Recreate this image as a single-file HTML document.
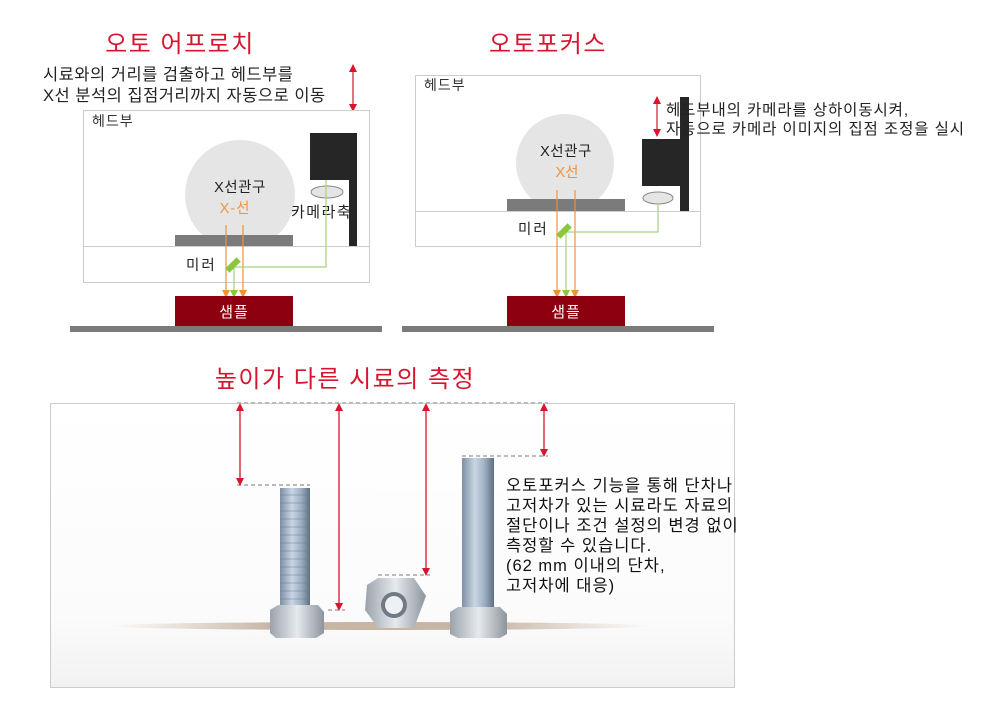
<!DOCTYPE html>
<html><head><meta charset="utf-8"><style>
html,body{margin:0;padding:0;background:#fff;width:1000px;height:727px;overflow:hidden}
svg text{font-family:"Liberation Sans","Noto Sans CJK KR",sans-serif}
</style></head><body>
<svg width="1000" height="727" viewBox="0 0 1000 727" xmlns="http://www.w3.org/2000/svg">
<defs>
<marker id="ar" markerWidth="8" markerHeight="8" refX="4" refY="4" orient="auto-start-reverse" markerUnits="userSpaceOnUse"><path d="M0,0 L8,4 L0,8z" fill="#d6162f"/></marker>
<marker id="ao" markerWidth="8" markerHeight="8" refX="6" refY="4" orient="auto" markerUnits="userSpaceOnUse"><path d="M0,0 L8,4 L0,8z" fill="#f0923a"/></marker>
<marker id="ag" markerWidth="8" markerHeight="8" refX="6" refY="4" orient="auto" markerUnits="userSpaceOnUse"><path d="M0,0 L8,4 L0,8z" fill="#8cc63f"/></marker>
<linearGradient id="bolt" x1="0" x2="1"><stop offset="0" stop-color="#7d8fa3"/><stop offset="0.4" stop-color="#c9d6e4"/><stop offset="0.7" stop-color="#9fb0c4"/><stop offset="1" stop-color="#5f6f82"/></linearGradient>
<linearGradient id="hex" x1="0" x2="1"><stop offset="0" stop-color="#9aa3ac"/><stop offset="0.5" stop-color="#e6eaee"/><stop offset="1" stop-color="#8c949c"/></linearGradient>
<linearGradient id="floor" x1="0" y1="0" x2="0" y2="1"><stop offset="0" stop-color="#fff"/><stop offset="0.75" stop-color="#fbfbfb"/><stop offset="1" stop-color="#f2f2f2"/></linearGradient>
<linearGradient id="shad" x1="0" x2="1"><stop offset="0" stop-color="#b49a7e" stop-opacity="0"/><stop offset="0.3" stop-color="#9c7d5c" stop-opacity="0.55"/><stop offset="0.7" stop-color="#9c7d5c" stop-opacity="0.55"/><stop offset="1" stop-color="#b49a7e" stop-opacity="0"/></linearGradient>
<clipPath id="c1"><rect x="83" y="110" width="286" height="125"/></clipPath>
<clipPath id="c2"><rect x="415" y="75" width="285" height="124"/></clipPath>
</defs>

<g font-size="24" fill="#d6162f" text-anchor="middle" letter-spacing="1.5">
<text x="180" y="52">오토 어프로치</text>
<text x="548" y="52">오토포커스</text>
<text x="345" y="387">높이가 다른 시료의 측정</text>
</g>

<g font-size="16.5" fill="#222" letter-spacing="0.5">
<text x="43" y="80">시료와의 거리를 검출하고 헤드부를</text>
<text x="43" y="101">X선 분석의 집점거리까지 자동으로 이동</text>
</g>
<line x1="353" y1="68" x2="353" y2="108" stroke="#d6162f" stroke-width="1.2" marker-start="url(#ar)" marker-end="url(#ar)"/>
<rect x="83.5" y="110.5" width="286" height="172" fill="#fff" stroke="#ccc"/>
<line x1="83" y1="246.5" x2="369" y2="246.5" stroke="#ccc"/>
<text x="92" y="126" font-size="14" fill="#333" letter-spacing="1">헤드부</text>
<circle cx="240" cy="195" r="55" fill="#e6e5e6" clip-path="url(#c1)"/>
<rect x="175" y="235" width="118" height="11" fill="#7b7b7b"/>
<text x="240" y="192" font-size="14.5" fill="#222" text-anchor="middle" letter-spacing="0.5">X선관구</text>
<text x="235" y="213" font-size="14.5" fill="#f0923a" text-anchor="middle" letter-spacing="1">X-선</text>
<path d="M310,133 H357 V246 H349 V180 H310z" fill="#262626"/>
<ellipse cx="327" cy="192" rx="16" ry="6" fill="#e6e5e6" stroke="#888"/>
<text x="291" y="217" font-size="15" fill="#222" letter-spacing="1.5">카메라축</text>
<text x="186" y="270" font-size="14.5" fill="#222" letter-spacing="2">미러</text>
<line x1="226" y1="225" x2="226" y2="296" stroke="#f0923a" stroke-width="1.2" marker-end="url(#ao)"/>
<line x1="243" y1="225" x2="243" y2="296" stroke="#f0923a" stroke-width="1.2" marker-end="url(#ao)"/>
<polyline points="326,180 326,267 234,267 234,296" fill="none" stroke="#a8d17a" stroke-width="1.2" marker-end="url(#ag)"/>
<rect x="225" y="262" width="16" height="6" fill="#8cc63f" transform="rotate(-45 233 265)"/>
<rect x="175" y="296" width="118" height="30" fill="#8c0010"/>
<text x="234" y="317" font-size="15" fill="#fff" text-anchor="middle" letter-spacing="1">샘플</text>
<rect x="70" y="326" width="312" height="6" fill="#7b7b7b"/>

<rect x="415.5" y="75.5" width="285" height="171" fill="#fff" stroke="#ccc"/>
<line x1="415" y1="211.5" x2="700" y2="211.5" stroke="#ccc"/>
<text x="424" y="90" font-size="14" fill="#333" letter-spacing="1">헤드부</text>
<circle cx="565" cy="163" r="49" fill="#e6e5e6" clip-path="url(#c2)"/>
<rect x="507" y="199" width="118" height="12" fill="#7b7b7b"/>
<text x="566" y="156" font-size="14.5" fill="#222" text-anchor="middle" letter-spacing="0.5">X선관구</text>
<text x="567" y="177" font-size="14.5" fill="#f0923a" text-anchor="middle">X선</text>
<rect x="680" y="97" width="9" height="114" fill="#262626"/>
<rect x="642" y="139" width="44" height="47" fill="#262626"/>
<ellipse cx="658" cy="198" rx="15" ry="6" fill="#e6e5e6" stroke="#888"/>
<line x1="657" y1="100" x2="657" y2="133" stroke="#d6162f" stroke-width="1.2" marker-start="url(#ar)" marker-end="url(#ar)"/>
<g font-size="15.5" fill="#222" letter-spacing="0.9">
<text x="666" y="115">헤드부내의 카메라를 상하이동시켜,</text>
<text x="666" y="134">자동으로 카메라 이미지의 집점 조정을 실시</text>
</g>
<text x="518" y="234" font-size="14.5" fill="#222" letter-spacing="2">미러</text>
<line x1="557" y1="190" x2="557" y2="296" stroke="#f0923a" stroke-width="1.2" marker-end="url(#ao)"/>
<line x1="575" y1="190" x2="575" y2="296" stroke="#f0923a" stroke-width="1.2" marker-end="url(#ao)"/>
<polyline points="658,204 658,232 566,232 566,296" fill="none" stroke="#a8d17a" stroke-width="1.2" marker-end="url(#ag)"/>
<rect x="556" y="228" width="16" height="6" fill="#8cc63f" transform="rotate(-45 564 231)"/>
<rect x="507" y="296" width="118" height="30" fill="#8c0010"/>
<text x="566" y="317" font-size="15" fill="#fff" text-anchor="middle" letter-spacing="1">샘플</text>
<rect x="402" y="326" width="312" height="6" fill="#7b7b7b"/>

<rect x="50.5" y="403.5" width="684" height="284" fill="url(#floor)" stroke="#ccc"/>
<ellipse cx="380" cy="626" rx="270" ry="4" fill="url(#shad)"/>
<rect x="280" y="488" width="30" height="122" fill="url(#bolt)"/>
<g stroke="#6d7d90" stroke-width="1" opacity="0.5">
<path d="M280,495h30M280,503h30M280,511h30M280,519h30M280,527h30M280,535h30M280,543h30M280,551h30M280,559h30M280,567h30M280,575h30M280,583h30M280,591h30M280,599h30"/>
<path d="M462,466h32M462,474h32M462,482h32M462,490h32M462,498h32M462,506h32M462,514h32M462,522h32M462,530h32M462,538h32M462,546h32M462,554h32M462,562h32M462,570h32M462,578h32M462,586h32M462,594h32M462,602h32"/>
</g>
<path d="M270,610 L278,605 H318 L324,612 V633 L316,638 H276 L270,633z" fill="url(#hex)"/>
<path d="M367,585 L378,578 H414 L426,596 L414,628 H378 L365,610z" fill="url(#hex)"/>
<circle cx="394" cy="605" r="13" fill="#6f7a85"/><circle cx="394" cy="605" r="9" fill="#eef1f4"/>
<rect x="462" y="458" width="32" height="155" fill="url(#bolt)"/>
<path d="M450,612 L458,607 H500 L507,614 V634 L500,638 H458 L450,634z" fill="url(#hex)"/>
<g stroke="#bbb" stroke-width="2" stroke-dasharray="4,3">
<line x1="237" y1="403" x2="548" y2="403"/>
<line x1="237" y1="485" x2="310" y2="485"/>
<line x1="328" y1="610" x2="345" y2="610"/>
<line x1="378" y1="575" x2="430" y2="575"/>
<line x1="462" y1="456" x2="548" y2="456"/>
</g>
<g stroke="#d6162f" stroke-width="1.3">
<line x1="240" y1="407" x2="240" y2="482" marker-start="url(#ar)" marker-end="url(#ar)"/>
<line x1="339" y1="407" x2="339" y2="607" marker-start="url(#ar)" marker-end="url(#ar)"/>
<line x1="426" y1="407" x2="426" y2="572" marker-start="url(#ar)" marker-end="url(#ar)"/>
<line x1="544" y1="407" x2="544" y2="453" marker-start="url(#ar)" marker-end="url(#ar)"/>
</g>
<g font-size="16.5" fill="#111" letter-spacing="1">
<text x="506" y="491">오토포커스 기능을 통해 단차나</text>
<text x="506" y="511">고저차가 있는 시료라도 자료의</text>
<text x="506" y="531">절단이나 조건 설정의 변경 없이</text>
<text x="506" y="551">측정할 수 있습니다.</text>
<text x="506" y="571">(62 mm 이내의 단차,</text>
<text x="506" y="591">고저차에 대응)</text>
</g>
</svg>
</body></html>
